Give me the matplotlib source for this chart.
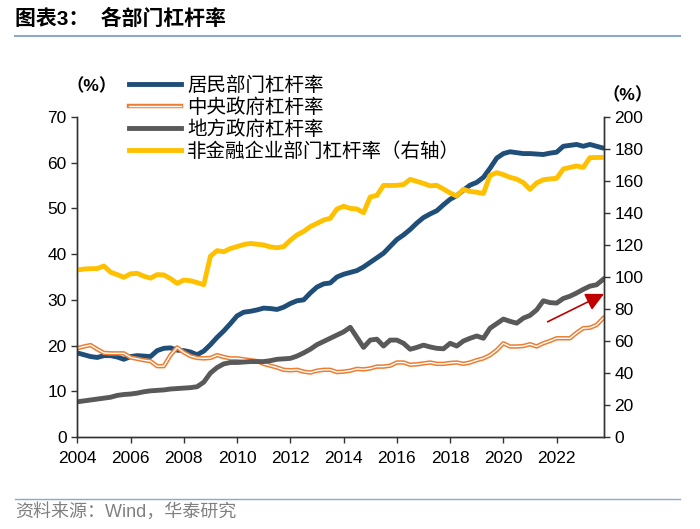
import numpy as np
import matplotlib
matplotlib.use("Agg")
import matplotlib.pyplot as plt
import matplotlib.patheffects as pe
from matplotlib.lines import Line2D

plt.rcParams['font.family'] = ['Liberation Sans', 'Noto Sans CJK SC', 'DejaVu Sans']

# quarterly data, 2004Q1 - 2023Q4
years = np.arange(2004, 2024)
x = np.arange(80) / 4 + 2004

household = [18.4, 18.0, 17.6, 17.4,  17.8, 17.8, 17.5, 17.0,  17.6, 17.8, 17.7, 17.6,
             18.9, 19.4, 19.5, 19.0,  18.9, 18.6, 18.0, 18.8,  20.2, 21.8, 23.2, 24.8,
             26.5, 27.3, 27.5, 27.8,  28.2, 28.1, 27.9, 28.4,  29.2, 29.8, 30.0, 31.5,
             32.8, 33.5, 33.7, 35.0,  35.6, 36.0, 36.4, 37.2,  38.2, 39.2, 40.2, 41.7,
             43.2, 44.2, 45.4, 46.8,  48.0, 48.8, 49.5, 50.8,  52.0, 52.8, 54.0, 55.1,
             55.7, 56.8, 58.8, 61.0,  62.0, 62.4, 62.2, 62.0,  62.0, 61.9, 61.8, 62.1,
             62.3, 63.6, 63.8, 64.0,  63.6, 64.0, 63.6, 63.2]

central = [19.4, 19.8, 20.1, 19.2,  18.4, 18.3, 18.3, 18.3,  17.4, 17.1, 16.8, 16.6,
           15.5, 15.5, 17.9, 19.6,  18.5, 17.7, 17.3, 17.2,  17.3, 17.9, 17.5, 17.2,
           17.2, 17.0, 16.8, 16.6,  16.0, 15.6, 15.2, 14.7,  14.6, 14.7, 14.3, 14.1,
           14.5, 14.7, 14.7, 14.2,  14.3, 14.5, 14.9, 14.8,  15.0, 15.4, 15.4, 15.6,
           16.3, 16.3, 15.8, 15.9,  16.1, 16.3, 16.0, 16.0,  16.2, 16.3, 16.0, 16.3,
           16.8, 17.2, 17.9, 19.0,  20.5, 19.8, 19.8, 19.9,  20.3, 19.8, 20.5, 21.0,
           21.6, 21.6, 21.6, 22.8,  23.8, 23.9, 24.5, 26.0]

local = [7.7, 7.9, 8.1, 8.3,  8.5, 8.7, 9.1, 9.3,  9.4, 9.6, 9.9, 10.1,
         10.2, 10.3, 10.5, 10.6,  10.7, 10.8, 11.0, 12.0,  14.0, 15.2, 16.0, 16.3,
         16.3, 16.4, 16.5, 16.5,  16.5, 16.7, 17.0, 17.1,  17.2, 17.7, 18.4, 19.2,
         20.2, 20.9, 21.6, 22.3,  23.0, 24.0, 21.8, 19.6,  21.2, 21.4, 19.9, 21.2,
         21.2, 20.5, 19.2, 19.6,  20.1, 19.7, 19.4, 19.3,  20.5, 19.9, 21.0, 21.6,
         22.1, 21.6, 23.8, 24.8,  25.8, 25.3, 24.9, 26.0,  26.6, 27.8, 29.8, 29.4,
         29.3, 30.3, 30.8, 31.5,  32.3, 33.0, 33.3, 34.5]

corporate = [104.4, 105.0, 105.2, 105.3,  106.9, 103.0, 101.5, 99.8,  102.0, 102.3, 100.5, 99.3,
             101.5, 101.3, 99.0, 96.0,  98.1, 97.7, 96.5, 95.2,  113.0, 116.5, 115.8, 117.8,
             119.0, 120.3, 121.0, 120.5,  120.0, 118.8, 118.3, 119.0,  123.0, 126.3, 128.5, 131.5,
             133.5, 135.6, 136.7, 142.5,  144.2, 142.9, 142.5, 140.2,  150.0, 151.0, 157.3, 157.2,
             157.3, 157.8, 161.0, 159.8,  158.5, 157.0, 157.3, 155.0,  152.5, 150.6, 154.8, 153.5,
             153.0, 152.2, 163.5, 165.2,  164.0, 162.3, 161.2, 159.0,  154.8, 158.8, 160.8, 161.3,
             161.7, 167.5, 168.5, 169.4,  168.5, 174.6, 174.7, 174.8]

labels = ['居民部门杠杆率', '中央政府杠杆率', '地方政府杠杆率', '非金融企业部门杠杆率（右轴）']
colors = ['#1F4E79', '#ED7D31', '#595959', '#FFC000']

fig = plt.figure(figsize=(7, 5.29), dpi=100)
ax = fig.add_axes([0.1104, 0.1739, 0.7525, 0.6049])
ax2 = ax.twinx()

ax.plot(x, household, color=colors[0], lw=3.5, solid_capstyle='round')
ax.plot(x, central, color='white', lw=1.0,
        path_effects=[pe.Stroke(linewidth=3.2, foreground=colors[1]), pe.Normal()])
ax.plot(x, local, color=colors[2], lw=3.5)
ax2.plot(x, corporate, color=colors[3], lw=3.5)

ax.set_xlim(2004, 2023.78)
ax.set_ylim(0, 70)
ax2.set_ylim(0, 200)
ax.set_yticks(range(0, 71, 10))
ax2.set_yticks(range(0, 201, 20))
ax.set_xticks(years[::2])
ax.set_xticklabels([str(y) for y in years[::2]])

for a in (ax, ax2):
    a.spines['top'].set_visible(False)
    for s in ('left', 'right', 'bottom'):
        a.spines[s].set_color('#333333')
        a.spines[s].set_linewidth(1.0)
    a.tick_params(direction='out', length=4, width=1, color='#333333', labelsize=12.5)
ax.tick_params(axis='x', pad=6)

# red arrow
ax.annotate('', xy=(2023.78, 31.3), xytext=(2021.66, 25.2),
            arrowprops=dict(arrowstyle='-|>,head_length=1.1,head_width=0.55',
                            color='#C00000', lw=1.2, shrinkA=0, shrinkB=0))

# legend
handles = [Line2D([], [], color=colors[0], lw=3.5),
           Line2D([], [], color='white', lw=1.0,
                  path_effects=[pe.Stroke(linewidth=3.2, foreground=colors[1]), pe.Normal()]),
           Line2D([], [], color=colors[2], lw=3.5),
           Line2D([], [], color=colors[3], lw=3.5)]
fig.legend(handles, labels, loc='upper left', bbox_to_anchor=(0.184, 0.855), frameon=False,
           fontsize=14, handlelength=2.7, handletextpad=0.3, labelspacing=0.16,
           borderaxespad=0, borderpad=0)

# unit labels
fig.text(0.131, 0.838, '（%）', fontsize=12.5, ha='center', va='center', fontweight='bold')
fig.text(0.896, 0.820, '（%）', fontsize=12.5, ha='center', va='center', fontweight='bold')

# title and footer
fig.text(0.022, 0.965, '图表3：  各部门杠杆率', fontsize=15, fontweight='bold',
         ha='left', va='center')
fig.add_artist(Line2D([0.022, 0.972], [0.932, 0.932], transform=fig.transFigure,
                      color='#8EA9C8', lw=1.5))
fig.add_artist(Line2D([0.022, 0.972], [0.057, 0.057], transform=fig.transFigure,
                      color='#8EA9C8', lw=1.0))
fig.text(0.022, 0.033, '资料来源：Wind，华泰研究', fontsize=13, color='#808080',
         ha='left', va='center')

fig.savefig('out.png', dpi=100)
